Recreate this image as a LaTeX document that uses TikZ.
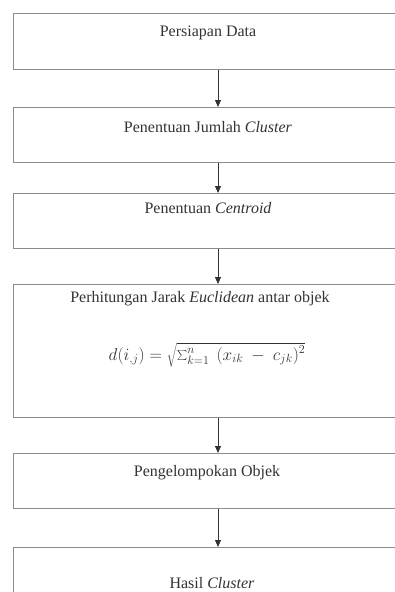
\documentclass[tikz,border=0pt]{standalone}
\usepackage{fontspec}
\setmainfont{Liberation Serif}
\usetikzlibrary{arrows.meta}
\definecolor{boxgray}{rgb}{0.55,0.55,0.55}
\definecolor{txt}{rgb}{0.2,0.2,0.2}
\begin{document}
\begin{tikzpicture}[x=1pt,y=-1pt,
  box/.style={draw=boxgray, line width=1.4pt, minimum width=390pt, inner sep=0pt, anchor=north west},
  lbl/.style={font=\fontsize{16}{19}\selectfont, text=txt, inner sep=0pt},
  mth/.style={font=\fontsize{17}{20}\selectfont, text=txt, inner sep=0pt},
  arr/.style={-{Triangle[length=7pt,width=6pt]}, line width=0.8pt, draw=txt, fill=txt}]
\useasboundingbox (0,0) rectangle (395,592);
\fill[white] (0,0) rectangle (395,592);
\coordinate (ax) at (218,0);
\begin{scope}
\clip (0,0) rectangle (395,592);
\node[box, minimum height=56pt] (b1) at (13,13) {};
\node[box, minimum height=55pt] (b2) at (13,107) {};
\node[box, minimum height=55pt] (b3) at (13,193) {};
\node[box, minimum height=133pt] (b4) at (13,284) {};
\node[box, minimum height=55pt] (b5) at (13,453) {};
\node[box, minimum height=70pt] (b6) at (13,547) {};
\node[lbl] (t1) at (208,33) {Persiapan Data};
\node[lbl] (t2) at (208,127) {Penentuan Jumlah \textit{Cluster}};
\node[lbl] (t3) at (208,208) {Penentuan \textit{Centroid}};
\node[lbl] (t4) at (200,299) {Perhitungan Jarak \textit{Euclidean} antar objek};
\node[mth] (f4) at (207,355) {$d(i_{,j}) = \sqrt{\textstyle\sum_{k=1}^{n}\ \,(x_{ik}\ -\ c_{jk})^2}$};
\node[lbl] (t5) at (207,473) {Pengelompokan Objek};
\node[lbl] (t6) at (212,583) {Hasil \textit{Cluster}};
\draw[arr] (b1.south -| ax) -- (b2.north -| ax);
\draw[arr] (b2.south -| ax) -- (b3.north -| ax);
\draw[arr] (b3.south -| ax) -- (b4.north -| ax);
\draw[arr] (b4.south -| ax) -- (b5.north -| ax);
\draw[arr] (b5.south -| ax) -- (b6.north -| ax);
\end{scope}
\end{tikzpicture}
\end{document}
